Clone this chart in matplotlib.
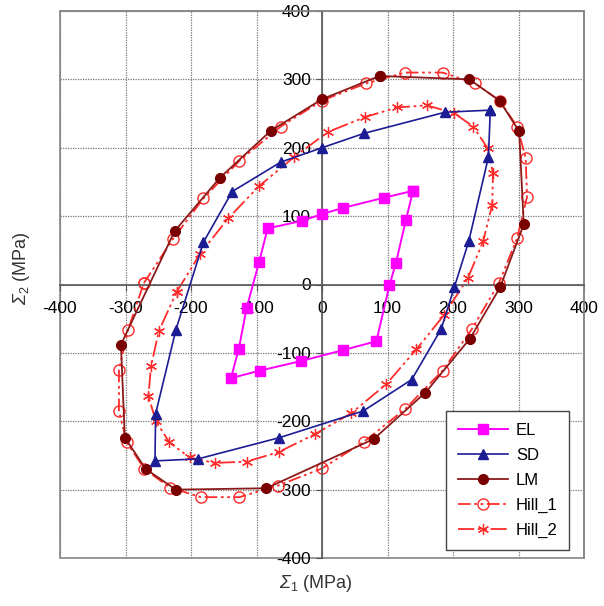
import matplotlib
matplotlib.use("Agg")
import matplotlib.pyplot as plt
from matplotlib.patches import Rectangle

plt.rcParams['font.family'] = ['Liberation Sans', 'DejaVu Sans']
plt.rcParams['axes.unicode_minus'] = False
plt.rcParams['mathtext.fontset'] = 'custom'
# capital greek goes through the 'rm' slot in mathtext, so make that slot italic
plt.rcParams['mathtext.rm'] = 'Liberation Sans:italic'
plt.rcParams['mathtext.it'] = 'Liberation Sans:italic'
plt.rcParams['mathtext.sf'] = 'Liberation Sans'

# closed loops in the (Sigma_1, Sigma_2) plane, MPa
el_x = [139, 128, 113, 103, 83, 32, -32, -95, -139, -127, -115, -96, -83, -31, 0, 32, 95, 139]
el_y = [137, 94, 32, -1, -83, -96, -112, -126, -137, -94, -34, 33, 82, 93, 103, 112, 127, 137]

sd_x = [257, 254, 224, 202, 182, 137, 63, -65, -189, -255, -254, -223, -181, -137, -63, 0, 64, 188, 257]
sd_y = [255, 186, 63, -4, -65, -139, -185, -224, -255, -258, -189, -66, 62, 136, 179, 200, 221, 252, 255]

lm_x = [88, 225, 271, 301, 308, 272, 226, 158, 79, -85, -223, -269, -301, -307, -225, -156, -78, 0, 88]
lm_y = [305, 300, 269, 224, 88, -4, -79, -158, -226, -298, -300, -270, -224, -88, 78, 156, 225, 271, 305]

hill1_x = [-272, -228, -181, -126, -63, 0, 67, 127, 184, 234, 271, 298, 311, 313, 298, 270,
           229, 184, 127, 64, 0, -67, -126, -185, -232, -271, -298, -310, -310, -296, -272]
hill1_y = [2, 66, 126, 181, 231, 269, 294, 310, 310, 294, 269, 231, 185, 128, 68, 2,
           -65, -126, -182, -230, -269, -294, -311, -311, -297, -270, -231, -185, -125, -66, 2]

hill2_x = [-222, -186, -143, -96, -42, 9, 66, 115, 160, 201, 231, 253, 261, 260, 246, 223,
           186, 144, 98, 45, -11, -66, -115, -164, -202, -233, -254, -265, -261, -249, -222]
hill2_y = [-11, 45, 97, 144, 187, 223, 245, 259, 262, 251, 231, 199, 163, 117, 63, 10,
           -45, -95, -146, -188, -219, -245, -259, -261, -253, -231, -199, -163, -119, -68, -11]

ticks = [-400, -300, -200, -100, 0, 100, 200, 300, 400]

fig = plt.figure(figsize=(6.04, 6.06), dpi=100)
ax = fig.add_axes([60 / 604, 48 / 606, 524 / 604, 547 / 606])

ax.plot(el_x, el_y, '-', color='#ff00ff', marker='s', ms=7, lw=1.4, label='EL', zorder=5)
ax.plot(sd_x, sd_y, '-', color='#1c1c94', marker='^', ms=7, lw=1.2, label='SD', zorder=4)
ax.plot(lm_x, lm_y, '-', color='#8b1a1a', marker='o', mfc='#7a0000', mec='#7a0000',
        ms=7, lw=1.3, label='LM', zorder=3)
ax.plot(hill1_x, hill1_y, color='#ff2a2a', ls=(0, (7, 2, 1.5, 2, 1.5, 2)), lw=1.3,
        marker='o', mfc='none', ms=8, mew=1, label='Hill_1', zorder=2)
ax.plot(hill2_x, hill2_y, color='#ff2a2a', ls=(0, (9, 2, 1.5, 2, 1.5, 2)), lw=1.3,
        marker=(6, 2, 0), ms=8, mew=0.9, label='Hill_2', zorder=2)

ax.set_xlim(-400, 400)
ax.set_ylim(-400, 400)
ax.set_xticks(ticks)
ax.set_yticks(ticks)
ax.grid(True, color='#777777', ls=(0, (1, 1)), lw=0.9)

ax.spines['left'].set_position('zero')
ax.spines['bottom'].set_position('zero')
for s in ['left', 'bottom']:
    ax.spines[s].set_color('#555555')
    ax.spines[s].set_linewidth(1.2)
for s in ['top', 'right']:
    ax.spines[s].set_color('#888888')
    ax.spines[s].set_linewidth(1.2)
ax.add_patch(Rectangle((0, 0), 1, 1, transform=ax.transAxes, fill=False,
                       ec='#888888', lw=1.2, clip_on=False, zorder=1))

ax.tick_params(axis='x', direction='out', length=4, pad=8, labelsize=12.5, color='#555555')
ax.tick_params(axis='y', direction='out', length=4, pad=4, labelsize=12.5, color='#555555')

leg = ax.legend(loc='lower right', bbox_to_anchor=(0.988, 0.0), fontsize=12,
                handlelength=3.0, labelspacing=0.6, fancybox=False, framealpha=1,
                borderpad=0.7, handletextpad=0.5)
leg.get_frame().set_edgecolor('#444444')
leg.get_frame().set_linewidth(1.0)

fig.text(316 / 604, 1 - 583 / 606, r'$\Sigma_{\mathsf{1}}$ (MPa)', ha='center', va='center',
         fontsize=13, color='#333333')
fig.text(21 / 604, 1 - 268 / 606, r'$\Sigma_{\mathsf{2}}$ (MPa)', ha='center', va='center',
         rotation=90, fontsize=13, color='#333333')

fig.savefig('out.png', dpi=100)
